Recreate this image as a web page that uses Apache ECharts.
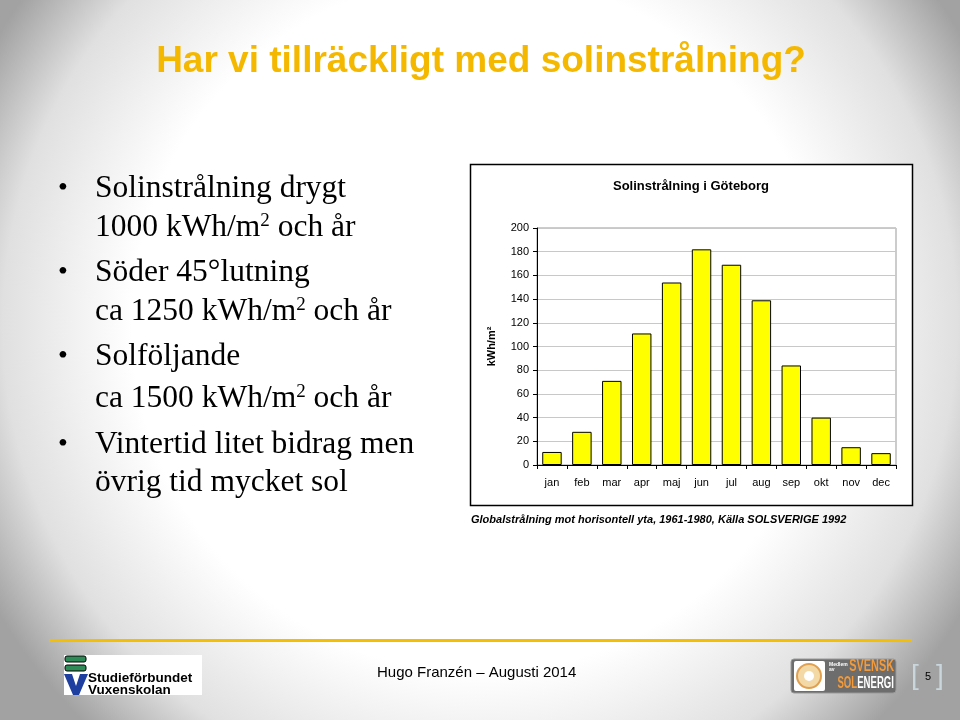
<!DOCTYPE html>
<html>
<head>
<meta charset="utf-8">
<script src="https://cdn.jsdelivr.net/npm/echarts@6/dist/echarts.min.js"></script>
<style>html,body{margin:0;padding:0;}#c{width:960px;height:720px;}</style>
</head>
<body>
<div id="c"></div>
<script>
const months = ['jan','feb','mar','apr','maj','jun','jul','aug','sep','okt','nov','dec'];
const radiation = [11, 28, 71, 111, 154, 182, 169, 139, 84, 40, 15, 10];
const yTicks = [0, 20, 40, 60, 80, 100, 120, 140, 160, 180, 200];
const chartTitle = 'Solinstrålning i Göteborg';
const yAxisName = 'kWh/m²';
const caption = 'Globalstrålning mot horisontell yta, 1961-1980, Källa SOLSVERIGE 1992';
const slideTitle = 'Har vi tillräckligt med solinstrålning?';
const footerText = 'Hugo Franzén – Augusti 2014';

const chart = echarts.init(document.getElementById('c'));
const serif = '"Liberation Serif", "Times New Roman", serif';
const sans = '"Liberation Sans", Arial, sans-serif';

function bulletLine(y, parts) {
  return {
    type: 'text', x: 95, y: y, z: 5,
    style: {
      text: parts, fill: '#000', font: '31.5px ' + serif, verticalAlign: 'middle',
      rich: { s: { fontSize: 19, fontFamily: serif, verticalAlign: 'top', fill:'#000' } }
    }
  };
}
function bullet(y) {
  return { type: 'text', x: 63, y: y, z: 5, style: { text: '•', fill: '#000', font: '28px ' + serif, align: 'center', verticalAlign: 'middle' } };
}

const option = {
  backgroundColor: {
    type: 'radial', x: 0.5, y: 0.45, r: 0.78,
    colorStops: [
      { offset: 0, color: '#ffffff' },
      { offset: 0.62, color: '#ffffff' },
      { offset: 0.85, color: '#e0e0e0' },
      { offset: 1, color: '#a2a2a2' }
    ]
  },
  animation: false,
  grid: { left: 537, top: 228, right: 64, bottom: 255, show: true, borderColor: '#999', borderWidth: 1, backgroundColor: 'transparent' },
  xAxis: {
    type: 'category', data: months, boundaryGap: true,
    axisLine: { lineStyle: { color: '#000', width: 1 } },
    axisTick: { show: true, length: 4, lineStyle: { color: '#000' } },
    axisLabel: { color: '#000', fontSize: 11, fontFamily: sans, margin: 12, interval: 0 }
  },
  yAxis: {
    type: 'value', min: yTicks[0], max: yTicks[yTicks.length - 1], interval: yTicks[1] - yTicks[0],
    name: yAxisName, nameLocation: 'middle', nameRotate: 90, nameGap: 40,
    nameTextStyle: { fontWeight: 'bold', fontSize: 11, fontFamily: sans, color: '#000' },
    axisLine: { show: true, lineStyle: { color: '#000', width: 1 } },
    axisTick: { show: true, length: 4, lineStyle: { color: '#000' } },
    axisLabel: { color: '#000', fontSize: 11, fontFamily: sans, margin: 8 },
    splitLine: { lineStyle: { color: '#c8c8c8', width: 1 } }
  },
  series: [{
    type: 'bar', data: radiation, barWidth: '65%',
    itemStyle: { color: '#ffff00', borderColor: '#000', borderWidth: 1 },
    z: 3
  }],
  graphic: [
    { type: 'rect', z: -10, shape: { x: 470.5, y: 164.5, width: 442, height: 341 }, style: { fill: '#fff', stroke: '#000', lineWidth: 1.5 } },
    { type: 'text', x: 691, y: 186, z: 5, style: { text: chartTitle, font: 'bold 13px ' + sans, fill: '#000', align: 'center', verticalAlign: 'middle' } },
    { type: 'text', x: 471, y: 520, z: 5, style: { text: caption, font: 'italic bold 11px ' + sans, fill: '#000', verticalAlign: 'middle' } },
    { type: 'text', x: 481, y: 62, z: 5, style: { text: slideTitle, font: 'bold 37px ' + sans, fill: '#F5B800', align: 'center', verticalAlign: 'middle',
      shadowColor: 'rgba(0,0,0,0.4)', shadowBlur: 2, shadowOffsetX: 2, shadowOffsetY: 2 } },
    bullet(189), bulletLine(189, 'Solinstrålning drygt'),
    bulletLine(228, '1000 kWh/m{s|2} och år'),
    bullet(273), bulletLine(273, 'Söder 45°lutning'),
    bulletLine(312, 'ca 1250 kWh/m{s|2} och år'),
    bullet(357), bulletLine(357, 'Solföljande'),
    bulletLine(399, 'ca 1500 kWh/m{s|2} och år'),
    bullet(445), bulletLine(445, 'Vintertid litet bidrag men'),
    bulletLine(483, 'övrig tid mycket sol'),
    { type: 'rect', z: 5, shape: { x: 49, y: 639, width: 863, height: 3 }, style: { fill: '#F5BE00' } },
    { type: 'text', x: 377, y: 673, z: 5, style: { text: footerText, font: '15px ' + sans, fill: '#000', verticalAlign: 'middle' } },
    { type: 'rect', z: 4, shape: { x: 64, y: 655, width: 138, height: 40 }, style: { fill: '#fff' } },
    { type: 'rect', z: 5, shape: { x: 65, y: 656, width: 21, height: 6, r: 2 }, style: { fill: '#2e8b57', stroke: '#000', lineWidth: 1 } },
    { type: 'rect', z: 5, shape: { x: 65, y: 665, width: 21, height: 6, r: 2 }, style: { fill: '#2e8b57', stroke: '#000', lineWidth: 1 } },
    { type: 'polygon', z: 5, shape: { points: [[64, 674], [72, 674], [76, 686], [80, 674], [88, 674], [79, 695], [73, 695]] }, style: { fill: '#1f3fa0' } },
    { type: 'text', x: 88, y: 678, z: 5, style: { text: 'Studieförbundet', font: 'bold 13.5px ' + sans, fill: '#000', verticalAlign: 'middle' } },
    { type: 'text', x: 88, y: 690, z: 5, style: { text: 'Vuxenskolan', font: 'bold 13.5px ' + sans, fill: '#000', verticalAlign: 'middle' } },
    { type: 'rect', z: 5, shape: { x: 791, y: 659, width: 105, height: 34, r: 3 }, style: { fill: '#6d6d6d', stroke: '#999', lineWidth: 1 } },
    { type: 'rect', z: 6, shape: { x: 794, y: 661, width: 31, height: 30, r: 2 }, style: { fill: '#fff' } },
    { type: 'circle', z: 7, shape: { cx: 809, cy: 676, r: 12 }, style: { fill: '#f3d9a6', stroke: '#e0a050', lineWidth: 2 } },
    { type: 'circle', z: 8, shape: { cx: 809, cy: 676, r: 5 }, style: { fill: '#fff' } },
    { type: 'text', x: 829, y: 667, z: 7, style: { text: 'Medlem\nav', font: 'bold 5px ' + sans, fill: '#fff', verticalAlign: 'middle' } },
    { type: 'text', x: 894, y: 667, z: 7, scaleX: 0.68, originX: 0, originY: 0, style: { text: 'SVENSK', font: 'bold 16px ' + sans, fill: '#f39a3a', align: 'right', verticalAlign: 'middle' } },
    { type: 'text', x: 894, y: 684, z: 7, scaleX: 0.6, originX: 0, originY: 0, style: { text: '{o|SOL}{w|ENERGI}', font: 'bold 16px ' + sans, align: 'right', verticalAlign: 'middle',
      rich: { o: { fill: '#f39a3a', font: 'bold 16px ' + sans }, w: { fill: '#fff', font: 'bold 16px ' + sans } } } },
    { type: 'text', x: 915, y: 676, z: 5, style: { text: '[', font: '28px ' + sans, fill: '#c9d6dc', align: 'center', verticalAlign: 'middle' } },
    { type: 'text', x: 940, y: 676, z: 5, style: { text: ']', font: '28px ' + sans, fill: '#c9d6dc', align: 'center', verticalAlign: 'middle' } },
    { type: 'text', x: 928, y: 677, z: 5, style: { text: '5', font: '11px ' + sans, fill: '#000', align: 'center', verticalAlign: 'middle' } }
  ]
};
chart.setOption(option);
</script>
</body>
</html>
